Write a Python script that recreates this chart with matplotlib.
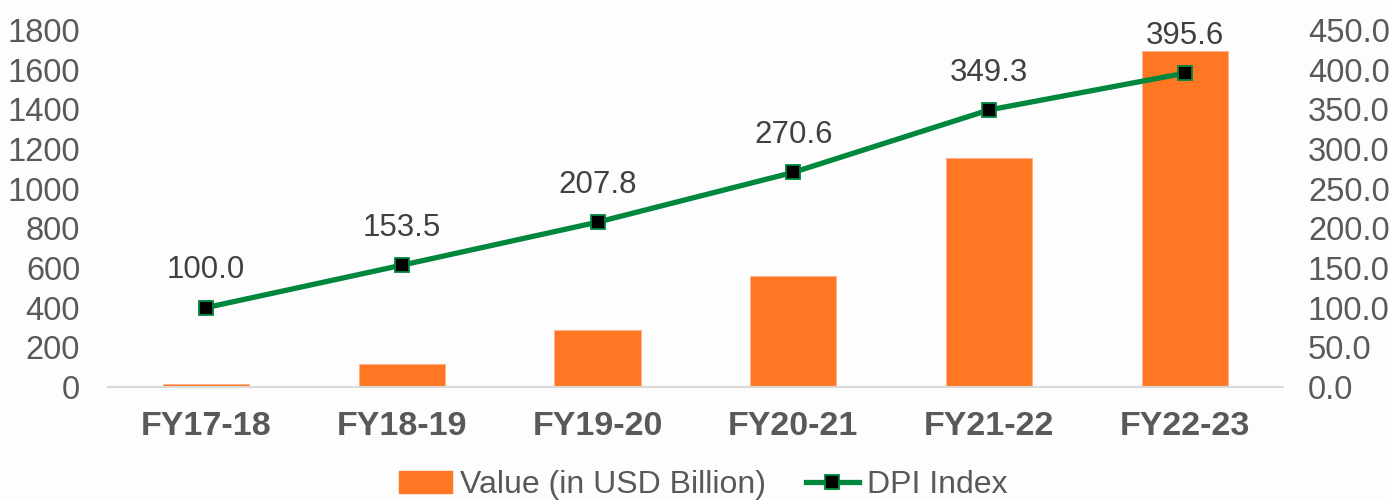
import matplotlib.pyplot as plt
from matplotlib.lines import Line2D
from matplotlib.patches import Patch

plt.rcParams['font.family'] = ['Liberation Sans', 'DejaVu Sans']

# data
years = ['FY17-18', 'FY18-19', 'FY19-20', 'FY20-21', 'FY21-22', 'FY22-23']
value_usd_bn = [16, 118, 288, 561, 1153, 1692]
dpi_index = [100.0, 153.5, 207.8, 270.6, 349.3, 395.6]

orange = '#FF7722'
green = '#00873E'
grey = '#595959'

fig = plt.figure(figsize=(13.9, 5), dpi=100, facecolor='#fdfdfd')
ax = fig.add_axes([0.0777, 0.226, 0.8453, 0.714])
ax.set_facecolor('#fdfdfd')
ax2 = ax.twinx()

x = range(len(years))
ax.bar(x, value_usd_bn, width=0.44, color=orange, edgecolor='#ffb08a', linewidth=0.6, zorder=2)

ax2.plot(x, dpi_index, color=green, lw=3.8, marker='s', markersize=10,
         markerfacecolor='black', markeredgecolor=green, markeredgewidth=1.3, zorder=3)

# value labels above the line points
for i, v in enumerate(dpi_index):
    ax2.annotate(f'{v:.1f}', (i, v), xytext=(0, 16), textcoords='offset points',
                 ha='center', va='bottom', fontsize=22.5, color='#404040')

ax.set_xlim(-0.5, len(years) - 0.5)
ax.set_ylim(0, 1800)
ax.set_yticks(range(0, 1801, 200))
ax2.set_ylim(0, 450)
ax2.set_yticks(range(0, 451, 50))
ax2.set_yticklabels([f'{t:.1f}' for t in range(0, 451, 50)])

ax.set_xticks(list(x))
ax.set_xticklabels(years, fontsize=24.5, fontweight='bold', color=grey)
ax.tick_params(axis='x', length=0, pad=17)
ax.tick_params(axis='y', length=0, labelsize=23.5, labelcolor=grey, pad=20)
ax2.tick_params(axis='y', length=0, labelsize=23.5, labelcolor=grey, pad=18)

for a in (ax, ax2):
    for s in a.spines.values():
        s.set_visible(False)
ax.spines['bottom'].set_visible(True)
ax.spines['bottom'].set_color('#d9d9d9')
ax.spines['bottom'].set_linewidth(1.5)

handles = [
    Patch(facecolor=orange, edgecolor=orange),
    Line2D([], [], color=green, lw=3.8, marker='s', markersize=10,
           markerfacecolor='black', markeredgecolor=green, markeredgewidth=1.3),
]
fig.legend(handles, ['Value (in USD Billion)', 'DPI Index'], loc='center',
           bbox_to_anchor=(0.506, 0.03), ncol=2, frameon=False, fontsize=23,
           labelcolor=grey, handlelength=1.65, handletextpad=0.25, columnspacing=1.25)

fig.savefig('out.png', dpi=100, facecolor=fig.get_facecolor())
